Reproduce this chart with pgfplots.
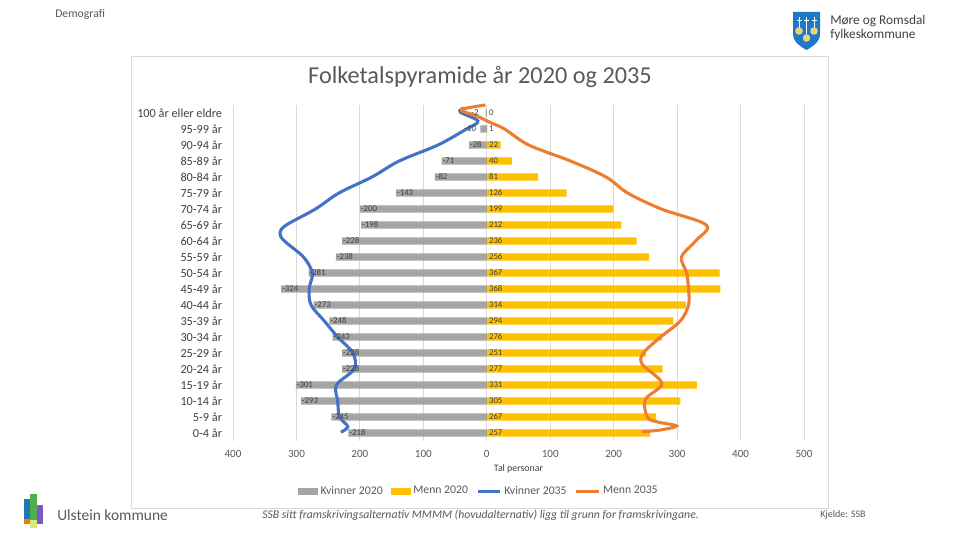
\documentclass[border=0pt]{standalone}
\usepackage{fontspec}
\setmainfont{Carlito}
\usepackage{pgfplots}
\pgfplotsset{compat=1.18}
\usepackage{pgfplotstable}
\definecolor{kv20}{HTML}{A5A5A5}
\definecolor{me20}{HTML}{FFC000}
\definecolor{kv35}{HTML}{4472C4}
\definecolor{me35}{HTML}{ED7D31}
\definecolor{txt}{HTML}{595959}
\definecolor{dtxt}{HTML}{404040}
\definecolor{gridc}{HTML}{D9D9D9}
\definecolor{shield}{HTML}{1F78C8}
\definecolor{bell}{HTML}{E8D27A}
\definecolor{ulA}{HTML}{1F77B4}
\definecolor{ulB}{HTML}{4CAF50}
\definecolor{ulC}{HTML}{7E57C2}
\definecolor{ulD}{HTML}{F57C00}
\definecolor{ulE}{HTML}{DCE775}

% p = row (0 = 0-4 år ... 20 = 100 år eller eldre), w = Kvinner 2020, m = Menn 2020, lw = label position
\pgfplotstableread{
p  w     m    lw
20 -2    0    -26
19 -10   1    -37
18 -28   22   -28
17 -71   40   -71
16 -82   81   -82
15 -143  126  -143
14 -200  199  -200
13 -198  212  -198
12 -228  236  -228
11 -238  256  -238
10 -281  367  -281
9  -324  368  -324
8  -273  314  -273
7  -248  294  -248
6  -243  276  -243
5  -228  251  -228
4  -228  277  -228
3  -301  331  -301
2  -293  305  -293
1  -245  267  -245
0  -218  257  -218
}\bars

\pgfplotstableread{
x    p
-36  20.31
-42  20.06
-14  19.5
-32  19.0
-77  18
-138 17
-181 16
-233 15
-270 14
-316 13
-326 12.5
-319 12
-289 11
-275 10
-280 9
-277 8
-256 7
-235 6
-211 5
-209 4
-237 3
-235 2
-232 1
-219 0.4
-230 0.05
}\kvinnerB

\pgfplotstableread{
x    p
-2   20.5
-40  20.2
-15  19.8
6    19.4
28   19.0
66   18
132  17
188  16
222  15
275  14
346  13
329  12
307  11
315  10
318  9
318  8
305  7
274  6
247  5
245  4.3
276  3.1
250  2.1
253  1
268  0.7
299  0.44
274  0.19
245  0.08
}\mennB

\begin{document}
\begin{tikzpicture}
\fill[white] (0,0) rectangle (720pt,405pt);
\begin{scope}[shift={(0,405pt)}, x=0.75pt, y=-0.75pt]
  % chart frame
  \draw[gridc, line width=0.75pt] (131,57) rectangle (828,508);
  % title
  \node[text=txt, font=\fontsize{18.2}{21}\selectfont] at (480,77) {Folketalspyramide år 2020 og 2035};
  % header
  \node[text=txt, font=\fontsize{8.8}{10}\selectfont, anchor=west, inner sep=0pt] at (55,14) {Demografi};
  % Møre og Romsdal logo
  \fill[shield] (793,12) -- (820,12) -- (820,34) .. controls (820,42) and (812,47) .. (806.5,50) .. controls (801,47) and (793,42) .. (793,34) -- cycle;
  \draw[white, line width=0.5pt] (799,17) -- (799,28) (796.5,20) -- (801.5,20)
                                 (806.5,17) -- (806.5,34) (804,20) -- (809,20)
                                 (814,17) -- (814,28) (811.5,20) -- (816.5,20);
  \fill[bell] (799,31) circle (3.8);
  \fill[bell] (814,31) circle (3.8);
  \fill[bell] (806.5,38) circle (3.8);
  \node[text=dtxt, font=\fontsize{10}{11}\selectfont, anchor=west, inner sep=0pt] at (830,21) {Møre og Romsdal};
  \node[text=dtxt, font=\fontsize{10}{11}\selectfont, anchor=west, inner sep=0pt] at (830,35) {fylkeskommune};
  % Ulstein logo
  \fill[ulA] (24,499) rectangle (30,524);
  \fill[ulB] (30,494) rectangle (37,528);
  \fill[ulC] (37,505) rectangle (43,524);
  \fill[ulD] (24,519) rectangle (30,524);
  \fill[ulE] (30,520) rectangle (37,528);
  \node[text=txt, font=\fontsize{11.6}{13}\selectfont, anchor=west, inner sep=0pt] at (57,515) {Ulstein kommune};
  % footer
  \node[text=txt, font=\fontsize{8.8}{10}\selectfont\itshape, anchor=west, inner sep=0pt] at (262,515) {SSB sitt framskrivingsalternativ MMMM (hovudalternativ) ligg til grunn for framskrivingane.};
  \node[text=txt, font=\fontsize{7.5}{9}\selectfont, anchor=west, inner sep=0pt] at (820,515) {Kjelde: SSB};
\end{scope}

\begin{axis}[
  at={(174.75pt,74.25pt)}, anchor=south west,
  width=428.25pt, height=252pt, scale only axis,
  xmin=-400, xmax=500, ymin=-0.5, ymax=20.5,
  xtick={-400,-300,...,500},
  xticklabels={400,300,200,100,0,100,200,300,400,500},
  ytick={0,...,20},
  yticklabels={0-4 år,5-9 år,10-14 år,15-19 år,20-24 år,25-29 år,30-34 år,35-39 år,40-44 år,45-49 år,50-54 år,55-59 år,60-64 år,65-69 år,70-74 år,75-79 år,80-84 år,85-89 år,90-94 år,95-99 år,100 år eller eldre},
  xmajorgrids, major grid style={gridc, line width=0.6pt},
  axis line style={draw=none},
  tick style={draw=none},
  xticklabel style={font=\fontsize{8.3}{10}\selectfont, text=txt, anchor=north, inner sep=0pt, yshift=-6.5pt},
  yticklabel style={font=\fontsize{9.2}{10}\selectfont, text=dtxt, anchor=east, inner sep=0pt, xshift=-8pt},
  xlabel={Tal personar},
  xlabel style={font=\fontsize{7.4}{8}\selectfont, text=dtxt, at={(axis description cs:0.5,-0.083)}, anchor=center, inner sep=0pt},
  clip=false,
  legend columns=4,
  legend style={at={(axis description cs:0.431,-0.149)}, anchor=center, draw=none, fill=none,
    font=\fontsize{8.8}{10}\selectfont, text=txt, inner sep=0pt,
    /tikz/every even column/.append style={column sep=4pt}},
  legend cell align=left,
]
\addplot[xbar, bar width=5.6pt, bar shift=0pt, fill=kv20, draw=none,
  legend image code/.code={\fill[kv20] (0pt,-2.6pt) rectangle (15pt,2.6pt);}]
  table[x=w, y=p] {\bars};
\addlegendentry{Kvinner 2020}
\addplot[xbar, bar width=5.6pt, bar shift=0pt, fill=me20, draw=none,
  legend image code/.code={\fill[me20] (0pt,-2.6pt) rectangle (15pt,2.6pt);}]
  table[x=m, y=p] {\bars};
\addlegendentry{Menn 2020}
\addplot[kv35, line width=2.3pt, smooth, tension=0.55, no markers,
  legend image code/.code={\draw[kv35, line width=2.3pt] (0pt,0pt) -- (17pt,0pt);}]
  table[x=x, y=p] {\kvinnerB};
\addlegendentry{Kvinner 2035}
\addplot[me35, line width=2.3pt, smooth, tension=0.55, no markers,
  legend image code/.code={\draw[me35, line width=2.3pt] (0pt,0pt) -- (17pt,0pt);}]
  table[x=x, y=p] {\mennB};
\addlegendentry{Menn 2035}
% data labels
\addplot[forget plot, only marks, mark=none, point meta=explicit symbolic,
  nodes near coords={\pgfplotspointmeta},
  every node near coord/.append style={anchor=west, inner sep=0pt, xshift=0.6pt, text=dtxt, font=\fontsize{6.6}{8}\selectfont}]
  table[x=lw, y=p, meta=w] {\bars};
\addplot[forget plot, only marks, mark=none, point meta=explicit symbolic,
  nodes near coords={\pgfplotspointmeta},
  every node near coord/.append style={anchor=west, inner sep=0pt, xshift=1.5pt, text=dtxt, font=\fontsize{6.6}{8}\selectfont}]
  table[x expr=0, y=p, meta=m] {\bars};
\end{axis}
\end{tikzpicture}
\end{document}
